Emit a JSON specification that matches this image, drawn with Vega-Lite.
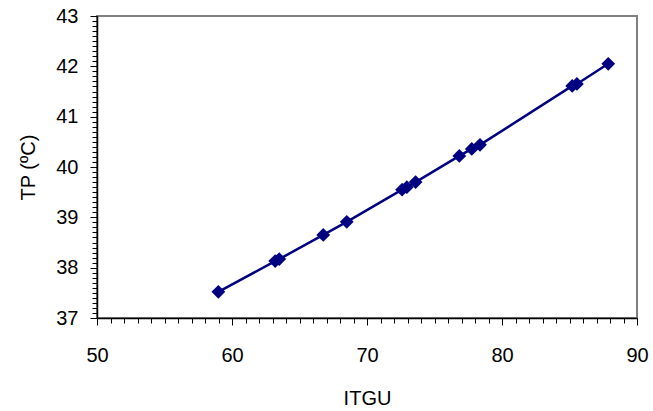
{
  "$schema": "https://vega.github.io/schema/vega-lite/v6.json",
  "autosize": "none",
  "padding": {"left": 97, "top": 16, "right": 16, "bottom": 93},
  "width": 540,
  "height": 302,
  "background": "white",
  "config": {
    "view": {"stroke": "#808080", "strokeWidth": 2},
    "font": "Liberation Sans"
  },
  "data": {
    "values": [
      {"ITGU": 58.99, "TP": 37.52},
      {"ITGU": 63.2, "TP": 38.13},
      {"ITGU": 63.5, "TP": 38.17},
      {"ITGU": 66.76, "TP": 38.65},
      {"ITGU": 68.5, "TP": 38.91},
      {"ITGU": 72.6, "TP": 39.55},
      {"ITGU": 72.95, "TP": 39.6},
      {"ITGU": 73.6, "TP": 39.7},
      {"ITGU": 76.84, "TP": 40.22},
      {"ITGU": 77.76, "TP": 40.36},
      {"ITGU": 78.37, "TP": 40.44},
      {"ITGU": 85.2, "TP": 41.61},
      {"ITGU": 85.55, "TP": 41.65},
      {"ITGU": 87.87, "TP": 42.05}
    ]
  },
  "encoding": {
    "x": {
      "field": "ITGU",
      "type": "quantitative",
      "scale": {"domain": [50, 90], "nice": false, "zero": false},
      "axis": {
        "title": "ITGU",
        "titleFont": "Liberation Sans",
        "titleFontSize": 20,
        "titleFontWeight": "normal",
        "titleColor": "black",
        "titlePadding": 23,
        "labelFont": "Liberation Sans",
        "labelFontSize": 20,
        "labelColor": "black",
        "labelPadding": 20,
        "labelExpr": "datum.value % 10 === 0 ? datum.label : ''",
        "values": [50,51,52,53,54,55,56,57,58,59,60,61,62,63,64,65,66,67,68,69,70,71,72,73,74,75,76,77,78,79,80,81,82,83,84,85,86,87,88,89,90],
        "grid": false,
        "domainColor": "black",
        "domainWidth": 1.5,
        "tickColor": "black",
        "tickWidth": 1,
        "tickSize": {"condition": {"test": "datum.value % 10 === 0", "value": 7}, "value": 5},
        "labelOverlap": false,
        "labelFlush": false
      }
    },
    "y": {
      "field": "TP",
      "type": "quantitative",
      "scale": {"domain": [37, 43], "nice": false, "zero": false},
      "axis": {
        "title": "TP (ºC)",
        "titleFont": "Liberation Sans",
        "titleFontSize": 20,
        "titleFontWeight": "normal",
        "titleColor": "black",
        "titlePadding": 17,
        "labelFont": "Liberation Sans",
        "labelFontSize": 20,
        "labelColor": "black",
        "labelPadding": 12,
        "labelExpr": "abs(datum.value - round(datum.value)) < 0.001 ? format(datum.value, 'd') : ''",
        "values": [37,37.1,37.2,37.3,37.4,37.5,37.6,37.7,37.8,37.9,38,38.1,38.2,38.3,38.4,38.5,38.6,38.7,38.8,38.9,39,39.1,39.2,39.3,39.4,39.5,39.6,39.7,39.8,39.9,40,40.1,40.2,40.3,40.4,40.5,40.6,40.7,40.8,40.9,41,41.1,41.2,41.3,41.4,41.5,41.6,41.7,41.8,41.9,42,42.1,42.2,42.3,42.4,42.5,42.6,42.7,42.8,42.9,43],
        "grid": false,
        "domainColor": "black",
        "domainWidth": 1.5,
        "tickColor": "black",
        "tickWidth": 1,
        "tickSize": {"condition": {"test": "abs(datum.value - round(datum.value)) < 0.001", "value": 7}, "value": 5},
        "labelOverlap": false,
        "labelFlush": false
      }
    }
  },
  "layer": [
    {"mark": {"type": "line", "color": "#000080", "strokeWidth": 2.5}},
    {"mark": {"type": "point", "shape": "diamond", "filled": true, "color": "#000080", "opacity": 1, "size": 190}}
  ]
}
